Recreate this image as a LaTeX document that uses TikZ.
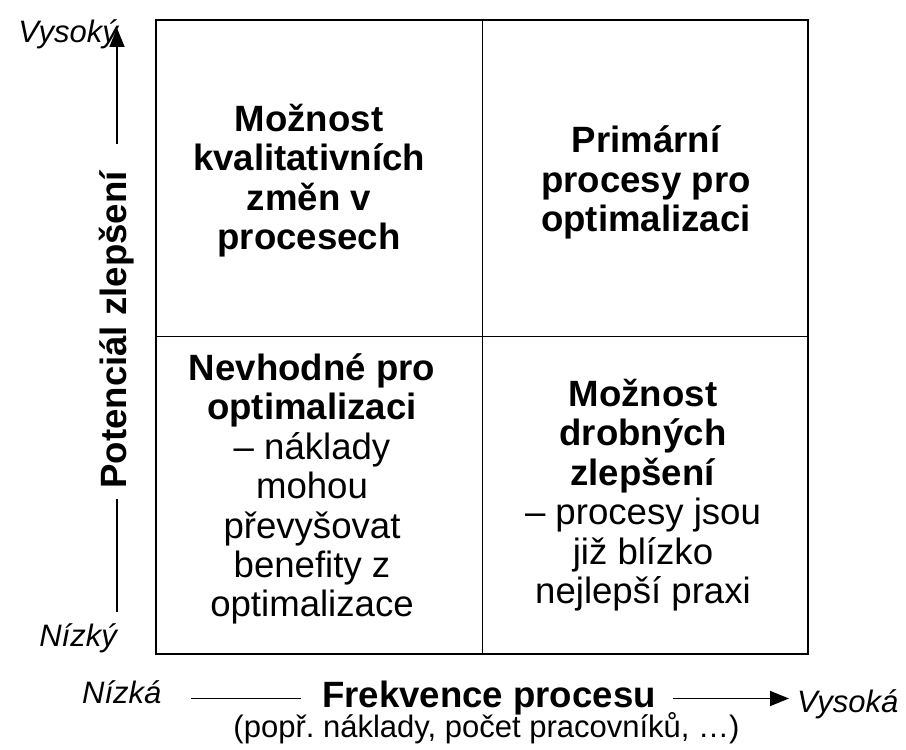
\documentclass[tikz,border=0pt]{standalone}
\usepackage{fontspec}
\setmainfont{Liberation Sans}
\usetikzlibrary{arrows.meta}
\frenchspacing
\begin{document}
\begin{tikzpicture}[x=1pt, y=1pt, >={Triangle[length=19pt,width=15pt]},
        quad/.style={align=center, inner sep=0pt, anchor=base, font=\fontsize{36.6}{39.4}\selectfont},
        quadb/.style={quad, font=\fontsize{36.6}{39.4}\selectfont\bfseries},
        axis/.style={inner sep=0pt, font=\fontsize{36.6}{40}\selectfont\bfseries},
        ends/.style={inner sep=0pt, font=\fontsize{31}{34}\selectfont\itshape}]
        \useasboundingbox (0,0) rectangle (906,750);
        \draw[line width=1.5pt] (156,96) rectangle (808,730);
        \draw[line width=1pt] (482,96) -- (482,730);
        \draw[line width=1pt] (156,413) -- (808,413);

        \node[quadb] (ul) at (309,500.5) {Možnost\\kvalitativních\\změn v\\procesech};
        \node[quadb] (ur) at (646,518.5) {Primární\\procesy pro\\optimalizaci};
        \node[quad] (ll) at (312,133) {\textbf{Nevhodné pro}\\\textbf{optimalizaci}\\– náklady\\mohou\\převyšovat\\benefity z\\optimalizace};
        \node[quad] (lr) at (643,146.5) {\textbf{Možnost}\\\textbf{drobných}\\\textbf{zlepšení}\\– procesy jsou\\již blízko\\nejlepší praxi};

        \node[axis, rotate=90] (ylab) at (117,420) {Potenciál zlepšení};
        \coordinate (yhi) at (117,722);
        \coordinate (ylo) at (117,138);
        \draw[->, line width=1.6pt, shorten <=27pt] (ylab.east) -- (yhi);
        \draw[line width=1.6pt, shorten <=10pt] (ylab.west) -- (ylo);
        \node[ends, anchor=base east] (yhitxt) at (118,707) {Vysoký};
        \node[ends, anchor=base east] (ylotxt) at (117,103) {Nízký};

        \node[axis] (xlab) at (489,51.5) {Frekvence procesu};
        \coordinate (xlo) at (191,51.5);
        \coordinate (xhi) at (789,51.5);
        \draw[line width=1.6pt, shorten <=21pt] (xlab.west) -- (xlo);
        \draw[->, line width=1.6pt, shorten <=17pt] (xlab.east) -- (xhi);
        \node[ends, anchor=base west] (xlotxt) at (82,46) {Nízká};
        \node[ends, anchor=base west] (xhitxt) at (797,37) {Vysoká};
        \node[inner sep=0pt, anchor=base, font=\fontsize{31}{34}\selectfont] (xsub) at (486.5,12) {(popř. náklady, počet pracovníků, …)};
\end{tikzpicture}
\end{document}
